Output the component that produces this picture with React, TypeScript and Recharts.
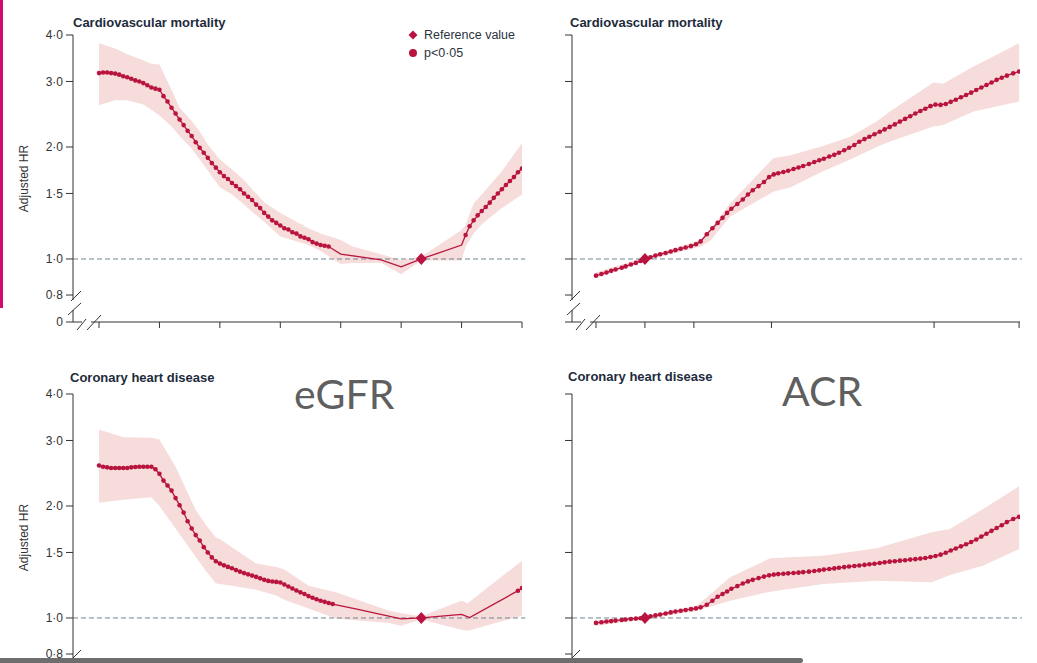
import { Area, ComposedChart, Line, ReferenceDot, ReferenceLine, XAxis, YAxis } from "recharts"

// axes
const egfrTicks = [15, 30, 45, 60, 75, 90, 105, 120]
const acrTicks = [2.5, 5, 10, 30, 300, 1000]
const hrTicks = [0.677, 0.8, 1, 1.5, 2, 3, 4]
const egfrRef = 95
const acrRef = 5

// eGFR - cardiovascular mortality
const cvdEgfrX = [
  15, 16, 17, 18, 19, 20, 21, 22, 23, 24, 25, 26, 27, 28, 29, 30, 31, 32, 33, 34, 35, 36, 37, 38, 39, 40, 41, 42, 43,
  44, 45, 46, 47, 48, 49, 50, 51, 52, 53, 54, 55, 56, 57, 58, 59, 60, 61, 62, 63, 64, 65, 66, 67, 68, 69, 70, 71, 72,
  75, 85, 90, 95, 105, 106, 107, 108, 109, 110, 111, 112, 113, 114, 115, 116, 117, 118, 119, 120,
]
const cvdEgfrHr = [
  3.16, 3.17, 3.17, 3.16, 3.15, 3.13, 3.1, 3.08, 3.05, 3.02, 3.0, 2.97, 2.93, 2.89, 2.87, 2.85, 2.74, 2.65, 2.55, 2.46,
  2.37, 2.29, 2.21, 2.14, 2.06, 1.99, 1.93, 1.87, 1.81, 1.76, 1.71, 1.67, 1.64, 1.6, 1.57, 1.54, 1.5, 1.47, 1.44, 1.4,
  1.37, 1.33, 1.3, 1.27, 1.25, 1.23, 1.21, 1.2, 1.18, 1.17, 1.15, 1.14, 1.13, 1.11, 1.1, 1.09, 1.085, 1.08,
  1.031, 0.994, 0.953, 1.0, 1.09, 1.16, 1.224, 1.27, 1.31, 1.346, 1.38, 1.417, 1.46, 1.5, 1.54, 1.58, 1.62, 1.66, 1.71,
  1.75,
]
const cvdEgfrNs = [75, 85, 90, 95, 105]
const cvdEgfrBandX = [15, 19, 22, 26, 28, 30, 33, 35, 38, 40, 42, 45, 48, 51, 53, 56, 60, 67, 70, 75, 78, 85, 90, 95, 105, 106, 108, 110, 115, 120]
const cvdEgfrLo = [2.59, 2.67, 2.67, 2.6, 2.52, 2.43, 2.27, 2.14, 1.98, 1.85, 1.73, 1.56, 1.49, 1.4, 1.34, 1.26, 1.15, 1.09, 1.05, 0.97, 0.975, 0.977, 0.91, 0.99, 0.99, 1.08, 1.17, 1.24, 1.37, 1.49]
const cvdEgfrHi = [3.8, 3.68, 3.55, 3.42, 3.35, 3.33, 2.85, 2.55, 2.35, 2.2, 2.03, 1.85, 1.74, 1.63, 1.54, 1.42, 1.33, 1.21, 1.17, 1.125, 1.08, 1.03, 0.994, 1.014, 1.197, 1.234, 1.41, 1.49, 1.72, 2.05]

// eGFR - coronary heart disease
const chdEgfrX = [
  15, 16, 17, 18, 19, 20, 21, 22, 23, 24, 25, 26, 27, 28, 29, 30, 31, 32, 33, 34, 35, 36, 37, 38, 39, 40, 41, 42, 43,
  44, 45, 46, 47, 48, 49, 50, 51, 52, 53, 54, 55, 56, 57, 58, 59, 60, 61, 62, 63, 64, 65, 66, 67, 68, 69, 70, 71, 72,
  73, 79, 90, 95, 105, 107, 119, 120,
]
const chdEgfrHr = [
  2.57, 2.55, 2.54, 2.53, 2.53, 2.53, 2.53, 2.53, 2.54, 2.545, 2.55, 2.55, 2.55, 2.55, 2.51, 2.44, 2.34, 2.27, 2.2, 2.1,
  2.01, 1.92, 1.82, 1.74, 1.67, 1.615, 1.55, 1.5, 1.455, 1.42, 1.4, 1.385, 1.372, 1.36, 1.345, 1.332, 1.32, 1.31, 1.3,
  1.29, 1.278, 1.266, 1.258, 1.253, 1.25, 1.245, 1.23, 1.215, 1.2, 1.185, 1.172, 1.16, 1.145, 1.133, 1.123, 1.113, 1.105,
  1.097, 1.09, 1.057, 0.994, 1.0, 1.023, 1.002, 1.184, 1.204,
]
const chdEgfrNs = [79, 90, 95, 105, 107]
const chdEgfrBandX = [15, 21, 28, 30, 34, 39, 41.5, 44, 45, 48, 54, 59, 61, 67, 74, 87, 90, 95, 105, 106.5, 120]
const chdEgfrLo = [2.04, 2.08, 2.11, 2.0, 1.74, 1.46, 1.34, 1.24, 1.235, 1.22, 1.19, 1.15, 1.12, 1.06, 0.995, 0.97, 0.953, 0.99, 0.93, 0.924, 1.014]
const chdEgfrHi = [3.21, 3.06, 3.05, 3.02, 2.55, 1.95, 1.78, 1.645, 1.63, 1.55, 1.4, 1.37, 1.35, 1.22, 1.17, 1.046, 1.03, 1.01, 1.113, 1.095, 1.426]

// ACR (mg/g) points shared by both ACR panels
const acrX = [
  2.5, 2.7, 2.9, 3.1, 3.3, 3.6, 3.8, 4.1, 4.4, 4.7, 5, 5.4, 5.8, 6.2, 6.7, 7.2, 7.7, 8.3, 8.9, 9.6, 10.3, 11, 12, 13, 14,
  15, 16, 17, 18.5, 20, 21.5, 23, 25, 27, 29, 31, 33, 35.5, 38, 41, 44, 47, 51, 55, 59, 63, 68, 73, 78, 84, 90, 97, 104,
  112, 120, 129, 139, 149, 160, 172, 185, 199, 214, 230, 247, 265, 285, 306, 329, 354, 380, 408, 439, 472, 507, 545, 586,
  630, 677, 728, 782, 841, 920, 1000,
]
const acrNs = [5]

// ACR - cardiovascular mortality
const cvdAcrHr = [
  0.902, 0.911, 0.92, 0.929, 0.937, 0.947, 0.955, 0.966, 0.976, 0.988, 1.0, 1.011, 1.021, 1.03, 1.038, 1.047, 1.056,
  1.065, 1.074, 1.083, 1.095, 1.115, 1.165, 1.21, 1.25, 1.29, 1.33, 1.365, 1.405, 1.445, 1.49, 1.53, 1.57, 1.61, 1.66,
  1.688, 1.7, 1.713, 1.726, 1.745, 1.762, 1.778, 1.8, 1.822, 1.842, 1.86, 1.885, 1.905, 1.93, 1.96, 1.99, 2.025, 2.066,
  2.1, 2.13, 2.165, 2.198, 2.23, 2.265, 2.3, 2.34, 2.38, 2.42, 2.46, 2.5, 2.535, 2.575, 2.6, 2.595, 2.61, 2.645, 2.68,
  2.72, 2.76, 2.8, 2.845, 2.89, 2.935, 2.98, 3.03, 3.07, 3.11, 3.155, 3.19,
]
const cvdAcrBandX = [2.5, 5, 11, 12.6, 16.7, 30.8, 39.3, 62.3, 91.4, 133, 160.7, 297, 341, 525, 1000]
const cvdAcrLo = [0.887, 0.99, 1.08, 1.12, 1.3, 1.517, 1.56, 1.72, 1.85, 2.0, 2.07, 2.27, 2.29, 2.49, 2.65]
const cvdAcrHi = [0.92, 1.01, 1.125, 1.2, 1.41, 1.865, 1.9, 2.013, 2.13, 2.34, 2.49, 2.98, 2.96, 3.29, 3.8]

// ACR - coronary heart disease
const chdAcrHr = [
  0.97, 0.974, 0.978, 0.981, 0.984, 0.988, 0.991, 0.994, 0.996, 0.998, 1.0, 1.01, 1.016, 1.022, 1.028, 1.035, 1.041,
  1.046, 1.051, 1.056, 1.061, 1.068, 1.085, 1.112, 1.14, 1.16, 1.178, 1.198, 1.218, 1.238, 1.254, 1.266, 1.28, 1.292,
  1.302, 1.308, 1.312, 1.315, 1.318, 1.321, 1.324, 1.328, 1.332, 1.337, 1.343, 1.349, 1.354, 1.359, 1.364, 1.37, 1.375,
  1.38, 1.384, 1.389, 1.394, 1.399, 1.405, 1.411, 1.417, 1.421, 1.426, 1.43, 1.435, 1.439, 1.444, 1.449, 1.458, 1.468,
  1.48, 1.497, 1.518, 1.538, 1.558, 1.578, 1.6, 1.625, 1.655, 1.685, 1.715, 1.745, 1.775, 1.81, 1.845, 1.87,
]
const chdAcrBandX = [2.5, 5, 10.4, 13, 16.7, 29.4, 62.3, 133, 290, 376, 600, 1000]
const chdAcrLo = [0.953, 0.99, 1.046, 1.077, 1.113, 1.177, 1.234, 1.26, 1.247, 1.305, 1.382, 1.533]
const chdAcrHi = [0.983, 1.01, 1.079, 1.17, 1.287, 1.447, 1.47, 1.54, 1.7, 1.735, 1.963, 2.26]

const RED = "#b8143f"
const BAND = "#f6dcda"
const AXIS = "#333"
const DASH = "#6f8692"
const FONT = '"Liberation Sans", Arial, sans-serif'
const TITLE_FONT = '"Liberation Sans Narrow", "Liberation Sans", Arial, sans-serif'

type Row = { x: number; hr?: number; sig?: boolean; band?: [number, number] }

function buildRows(xs: number[], hr: number[], ns: number[], bx: number[], lo: number[], hi: number[]): Row[] {
  const map = new Map<number, Row>()
  xs.forEach((x, i) => map.set(x, { x, hr: hr[i], sig: !ns.includes(x) }))
  bx.forEach((x, i) => {
    const row = map.get(x) ?? { x }
    row.band = [lo[i], hi[i]]
    map.set(x, row)
  })
  return [...map.values()].sort((a, b) => a.x - b.x)
}

function formatHr(v: number): string {
  if (v < 0.7) return "0"
  return v.toFixed(1).replace(".", "·")
}

function SigDot(props: any) {
  const { cx, cy, payload, index } = props
  if (cx == null || cy == null || !payload?.sig) {
    return <g key={`d${index}`} />
  }
  return <circle key={`d${index}`} cx={cx} cy={cy} r={2.3} fill={RED} />
}

function Diamond(props: any) {
  const { cx, cy } = props
  return <polygon points={`${cx},${cy - 6} ${cx + 5.5},${cy} ${cx},${cy + 6} ${cx - 5.5},${cy}`} fill={RED} />
}

const EmptyTick = () => <g />

type PanelProps = {
  left: number
  top: number
  width: number
  axisWidth: number
  rightMargin: number
  rows: Row[]
  log: boolean
  xDomain: [number, number]
  xTicks: number[]
  refX: number
  lineEnd: number
  showLabels: boolean
}

function Panel({ left, top, width, axisWidth, rightMargin, rows, log, xDomain, xTicks, refX, lineEnd, showLabels }: PanelProps) {
  return (
    <div style={{ position: "absolute", left, top }}>
      <ComposedChart width={width} height={340} data={rows} margin={{ top: 35, right: rightMargin, bottom: 0, left: 0 }}>
        <XAxis
          dataKey="x"
          type="number"
          scale={log ? "log" : "linear"}
          domain={xDomain}
          ticks={xTicks}
          allowDataOverflow
          height={18}
          tickSize={6}
          tick={EmptyTick}
          axisLine={{ stroke: AXIS }}
          tickLine={{ stroke: AXIS }}
        />
        <YAxis
          type="number"
          scale="log"
          domain={[0.677, 4]}
          ticks={hrTicks}
          allowDataOverflow
          width={axisWidth}
          tickSize={7}
          tickMargin={3}
          tickFormatter={formatHr}
          tick={showLabels ? { fill: AXIS, fontSize: 12, fontFamily: FONT } : EmptyTick}
          axisLine={{ stroke: AXIS }}
          tickLine={{ stroke: AXIS }}
          label={
            showLabels
              ? {
                  value: "Adjusted HR",
                  angle: -90,
                  position: "insideLeft",
                  offset: 24,
                  textAnchor: "middle",
                  style: { fill: AXIS, fontSize: 12, fontFamily: FONT, textAnchor: "middle" },
                }
              : undefined
          }
        />
        <Area
          type="linear"
          dataKey="band"
          stroke="none"
          fill={BAND}
          fillOpacity={1}
          connectNulls
          isAnimationActive={false}
          activeDot={false}
        />
        <ReferenceLine
          segment={[
            { x: xDomain[0], y: 1 },
            { x: lineEnd, y: 1 },
          ]}
          ifOverflow="visible"
          stroke={DASH}
          strokeDasharray="5 3"
        />
        <Line
          type="linear"
          dataKey="hr"
          stroke={RED}
          strokeWidth={1.3}
          dot={SigDot}
          activeDot={false}
          connectNulls
          isAnimationActive={false}
        />
        <ReferenceDot x={refX} y={1} ifOverflow="visible" shape={Diamond} />
      </ComposedChart>
    </div>
  )
}

function AxisBreak({ ax, by, y08 }: { ax: number; by: number; y08: number }) {
  return (
    <g stroke={AXIS} strokeWidth={1} fill="none">
      <rect x={ax - 2} y={y08 + 5} width={4} height={10} fill="#fff" stroke="none" />
      <line x1={ax - 2} y1={y08 + 6} x2={ax + 8} y2={y08 - 4} />
      <line x1={ax - 5} y1={y08 + 20} x2={ax + 8} y2={y08 + 8} />
      <rect x={ax + 9} y={by - 2} width={9} height={4} fill="#fff" stroke="none" />
      <line x1={ax + 4} y1={by + 8} x2={ax + 13} y2={by - 3} />
      <line x1={ax + 14} y1={by + 8} x2={ax + 28} y2={by - 7} />
    </g>
  )
}

const titleStyle = {
  position: "absolute" as const,
  fontFamily: TITLE_FONT,
  fontWeight: 700,
  fontSize: 13,
  lineHeight: "13px",
  color: "#1e2b3c",
  whiteSpace: "nowrap" as const,
}

const bigStyle = {
  position: "absolute" as const,
  fontFamily: "Lato, 'Open Sans', sans-serif",
  fontSize: 41,
  lineHeight: "41px",
  color: "#5f5f5f",
  whiteSpace: "nowrap" as const,
}

export default function App() {
  const cvdEgfr = buildRows(cvdEgfrX, cvdEgfrHr, cvdEgfrNs, cvdEgfrBandX, cvdEgfrLo, cvdEgfrHi)
  const chdEgfr = buildRows(chdEgfrX, chdEgfrHr, chdEgfrNs, chdEgfrBandX, chdEgfrLo, chdEgfrHi)
  const cvdAcr = buildRows(acrX, cvdAcrHr, acrNs, cvdAcrBandX, cvdAcrLo, cvdAcrHi)
  const chdAcr = buildRows(acrX, chdAcrHr, acrNs, chdAcrBandX, chdAcrLo, chdAcrHi)

  const egfrDomain: [number, number] = [8.54, 120]
  const acrDomain: [number, number] = [1.78, 1013]

  return (
    <div style={{ position: "fixed", left: 0, top: 0, width: 1037, height: 663, overflow: "hidden", background: "#fff" }}>
      <Panel left={0} top={0} width={530} axisWidth={73} rightMargin={8} rows={cvdEgfr} log={false}
        xDomain={egfrDomain} xTicks={egfrTicks} refX={egfrRef} lineEnd={120.8} showLabels />
      <Panel left={540} top={0} width={490} axisWidth={32} rightMargin={10} rows={cvdAcr} log
        xDomain={acrDomain} xTicks={acrTicks} refX={acrRef} lineEnd={1040} showLabels={false} />
      <Panel left={0} top={359} width={530} axisWidth={73} rightMargin={8} rows={chdEgfr} log={false}
        xDomain={egfrDomain} xTicks={egfrTicks} refX={egfrRef} lineEnd={120.8} showLabels />
      <Panel left={540} top={359} width={490} axisWidth={32} rightMargin={10} rows={chdAcr} log
        xDomain={acrDomain} xTicks={acrTicks} refX={acrRef} lineEnd={1040} showLabels={false} />

      <svg width={1037} height={663} style={{ position: "absolute", left: 0, top: 0, pointerEvents: "none" }}>
        <AxisBreak ax={73} by={322} y08={295} />
        <AxisBreak ax={572} by={322} y08={295} />
        <AxisBreak ax={73} by={681} y08={654} />
        <AxisBreak ax={572} by={681} y08={654} />
      </svg>

      <div style={{ ...titleStyle, left: 73, top: 16 }}>Cardiovascular mortality</div>
      <div style={{ ...titleStyle, left: 570, top: 16 }}>Cardiovascular mortality</div>
      <div style={{ ...titleStyle, left: 70, top: 371 }}>Coronary heart disease</div>
      <div style={{ ...titleStyle, left: 568, top: 370 }}>Coronary heart disease</div>

      <div style={{ ...bigStyle, left: 294, top: 373 }}>eGFR</div>
      <div style={{ ...bigStyle, left: 782, top: 370 }}>ACR</div>

      <div style={{ position: "absolute", left: 408, top: 26, fontFamily: FONT, fontSize: 12.5, color: "#2b3440" }}>
        <div style={{ display: "flex", alignItems: "center", height: 18 }}>
          <svg width={10} height={10} style={{ marginRight: 6 }}>
            <polygon points="5,0.5 9.5,5 5,9.5 0.5,5" fill={RED} />
          </svg>
          <span>Reference value</span>
        </div>
        <div style={{ display: "flex", alignItems: "center", height: 18 }}>
          <svg width={10} height={10} style={{ marginRight: 6 }}>
            <circle cx={5} cy={5} r={4} fill={RED} />
          </svg>
          <span>p&lt;0·05</span>
        </div>
      </div>

      <div style={{ position: "absolute", left: 0, top: 0, width: 3, height: 308, background: "#d10a6c" }} />
      <div style={{ position: "absolute", left: 0, top: 658, width: 803, height: 5, background: "#6e6e6e", borderRadius: "0 3px 3px 0" }} />
    </div>
  )
}
